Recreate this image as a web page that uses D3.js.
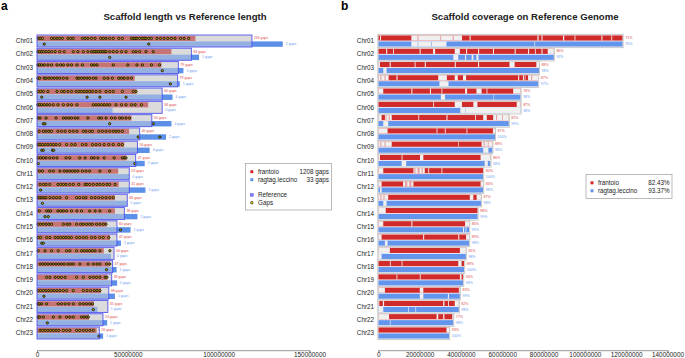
<!DOCTYPE html>
<html><head><meta charset="utf-8">
<script src="https://cdn.jsdelivr.net/npm/d3@7"></script>
<style>body{margin:0;background:#fff}svg{font-family:"Liberation Sans",Arial,Helvetica,sans-serif}</style>
</head><body><svg id="c" width="685" height="358"></svg>
<script>
// ---------- DATA (Mb) ----------
const chroms = ["Chr01","Chr02","Chr03","Chr04","Chr05","Chr06","Chr07","Chr08","Chr09","Chr10","Chr11","Chr12","Chr13","Chr14","Chr15","Chr16","Chr17","Chr18","Chr19","Chr20","Chr21","Chr22","Chr23"];
const refLen  = [118.3,85,77.8,77.4,68.9,68.9,63.2,56.5,55.3,54.3,50.8,50.8,49.7,48.1,44,44,42.4,41.6,41.1,39.5,39,36.3,34.3];
const frLen   = [87.2,74,68.5,53.8,54.8,61.2,52,50.7,48,49.3,44.7,45,42.9,42.9,38.3,40.1,36.8,40.1,38.6,35.2,31.3,28.7,32.8];
const ragLen  = [135.3,89.2,80.6,78.6,74.6,41.6,74,71,62,59.3,50.7,59.7,49.6,55.3,51.5,46.2,40.7,43.8,44.1,42.9,33.3,38.6,36.4];
const frGaps  = [118,83,79,79,60,94,50,40,56,47,53,41,66,38,60,47,40,37,49,38,35,23,26];
const ragGaps = [2,1,1,1,4,0,4,2,4,2,0,1,1,2,1,2,0,1,0,1,1,1,1];
const frGapPos = [
 [0.7,1.8,3,8,9.5,11,12.5,14,17,18.5,20,25,26.5,28,30,32,35,36.5,38,40,42,45,47,52,53,54,55,56.5,58,59,60,61.5,63,66,68,70,72,74,76,79,81,83.5],
 [0.5,1.5,2.5,3.5,5,6.5,8,10,12.5,15,20,22.5,25.5,28,30,31,32,33,34,35,36,37,38,40,42,44,46.5,49,53,54.5,56.5,60,64],
 [0.5,1.5,2.5,4,6,8,11,13,14.5,17,19,22,25,30,31.5,33,42,50,55,58,63,67.5],
 [0.5,1.5,4,5,6.5,8,9.5,11,12.5,14.5,16.5,22,23,24.5,26,27.5,29,31,32.5,37,39,41.5,45,46.5,48,50,52],
 [0.7,2,3.5,6,11,13.5,15,17,19,21.5,23,24.5,26,27.5,29,30.5,32.5,34.6,38,40,42,47,53,54.5],
 [0.5,1.5,2.5,4,5.5,7,9,11.5,14.5,17,19,22,31,32.5,34,35.5,37,38.5,40,43.5,46.5,49,52,54,57.5],
 [0.7,1.7,5,10.5,14.5,16,17.5,19,21,22.5,28,34,35.5,38,41,43,45.5,47,49,51],
 [1.2,3.5,5,6.5,8,11.5,13.5,15.5,18,20,22,25.5,27,29,30.5,34,36,38,40,42,43.5,45,47],
 [0.7,1.7,3,4.5,6,7.5,9,10.5,12.5,16.3,19,21,25,27,30.5,32.5,34.5,37,39.5,41.9,45,47],
 [0.7,2,3.5,5,7,9,11,16,18,23.5,26.5,30,31.5,33.5,37,42.5,47,48,49],
 [1.3,3,7,9,12.6,15,16.5,18,19.5,21,22.5,25,27,29,34.6,40],
 [1.7,3.5,5,7,11.5,13,14.5,16,18,20,23,26.5,27.5,29,31,33,34.6,36.5,38.5,40,43],
 [0.7,1.7,2.7,4,5,7.1,9,10.8,12.6,16.3,21.8,23.5,25.5,27,30,32,34,36,38,40,42],
 [1.3,5.3,6.5,7.5,11.5,13,14.5,16.3,19,22,24.5,29,32,34.6,40],
 [0.7,2,3.5,5,6.5,8,14.5,16.5,18,21.8,24,25.5,27.3,29,30.5,32.8,34.6,36.5,38],
 [0.7,2,5.3,7.1,10,11.5,13,14.5,16,17.5,19,21.8,23.5,25.5,27.3,30,32,34.5,36.5,39.5],
 [0.7,4.4,8,11.7,16.3,18.1,21.8,24.5,26,27.5,29,30.5,32,34.6,40.1],
 [1.7,3,4.5,6,7.5,9,10.5,12,13.5,15,17,18.5,20,23.6,28.2,31,33,34.6,38.3,40.1],
 [5.3,7.1,10,11.8,13.5,15.5,21.8,25.5,29.1,31,32.8,34.6,37.5,38.5],
 [0.7,2,3.5,5,6.5,8,9.5,11,12.6,14.5,16.3,20,25.5,27.5,29.5,31.5,33,34.6],
 [0.7,1.5,2.6,5.3,11.7,13.5,15.5,17.5,20,23.6,25.5,27.3,29,30.5],
 [0.7,1.5,3.5,9,12.6,16.3,18.1,20,24.5,26,27.3,28.2],
 [1.7,3,4.5,6,7.5,9,10.5,12,14.5,16.3,18.1,21.8,23.5,25.5,27.3,29.1,31]
];
const ragGapPos = [[4,61.5],[40],[69],[73.4],[2.6,27.6,34.6,49],[],[3.5,4.4,40,64],[55.7,67.6],[2.6,3.5,8.5,9.2],[0.7,53.8],[],[2],[3],[4.4,6.2],[46],[2.6,3.5],[],[38.3],[],[3.8],[31],[5.7],[34.1]];
const xTicksA = [0,50,100,150];

// panel b
const frPct  = [71,86,88,87,76,87,82,87,88,86,80,84,87,88,86,89,81,89,94,83,82,77,93];
const ragPct = [95,92,98,97,98,58,99,100,96,98,100,98,98,99,99,98,98,100,98,99,98,98,100];
const frUncov = [
 [[0.8,1.3],[16,40.5],[44.2,44.7],[77,77.6],[79,79.5],[89.4,90],[95,95.4],[108,108.5],[112.8,113.2]],
 [[3.8,4.3],[7.2,7.6],[20,20.5],[26.5,27.5],[37,39.5],[42.5,43],[48.3,48.8],[55.5,56],[66,66.5],[72.5,73],[75.8,76.2],[79,79.5],[82,85]],
 [[0,0.8],[5.5,6],[17.6,18],[22.5,23],[37,37.5],[48.3,48.8],[63.5,66],[76.5,77.8]],
 [[0,5],[8.8,9.3],[29,33.2],[37,38.5],[41,42.5],[67.7,68.2],[70,70.5],[72.5,77.4]],
 [[0,2.4],[16,16.5],[25,25.5],[30.6,31],[42,43],[47.5,50],[52.4,52.8],[65.3,68.9]],
 [[26.6,27],[37,40.5],[46,48],[67,68.9]],
 [[0,1.6],[3.2,6.5],[19.4,19.8],[33,33.5],[46.8,47.2],[50.8,52.5],[55.6,63.2]],
 [[0,4.5],[28.2,28.6],[32.2,32.6],[42.7,43.1],[55.5,56.5]],
 [[0,6.5],[38.7,39],[50,55.3]],
 [[0,0.8],[11.3,11.7],[20.2,21.8],[49.5,54.3]],
 [[0,2.4],[17,22.5],[24.2,24.6],[30.6,31]],
 [[0,1.6],[12,17],[49.5,50.8]],
 [[0,4.8],[44.3,46],[47.6,49.7]],
 [[0,3.6]],
 [[0,2.4],[16,16.5],[42,44]],
 [[0,1.6],[21.7,22.2],[38.7,39.2],[42.5,44]],
 [[0,5.6],[39.5,42.4]],
 [[5.6,6],[11.3,11.7],[38.7,40.3]],
 [[8.8,9.2],[20.1,20.5],[39.5,40.3]],
 [[0,3.2],[20.1,21.8],[39,39.5]],
 [[0,0.5],[2.2,2.8],[31.4,32],[33.8,34.2],[37,39]],
 [[0,5.2],[28.2,29],[31.4,32],[35.8,36.3]],
 [[33,34.3]]
];
const frPale = [[[19,19.5],[30,30.4],[36,36.5]],[],[],[[1,1.5],[3,3.5],[70.8,71.4],[74,74.5]],[],[],[[3.5,4],[5,5.5],[57,57.5],[60,60.4]],[],[[1,1.5],[3,3.5],[51,51.5],[53,53.4]],[],[[17.5,18],[19,20],[21,21.5]],[[13,14],[15,16]],[[1,1.5],[2.5,3]],[],[],[],[],[],[],[],[],[],[]];
const ragUncov = [
 [[16,33],[75.6,75.9]],
 [[36.3,38.7],[42,42.5],[45.2,46],[47.5,48.5]],
 [[2.4,4]],[[29.6,34]],[[30.3,32.3],[55.8,56]],[[39.7,68.9]],[[2.4,4.8]],[],[[50.8,53.3]],
 [[11.3,13.5],[51.5,53]],[],[[0.8,1.6]],[[2.4,4]],[],[[41,41.5],[42.2,42.6]],[[3.2,4.5]],
 [[0,1.6]],[],[],[[20.1,21.8],[33.7,34.2]],[[0,2.4],[14.5,14.8],[18,18.3]],[[5.6,5.9]],[]
];
const ragPale = [[[19,19.4],[25.5,26]],[],[],[],[],[[42,42.3]],[],[],[],[],[],[],[],[],[],[],[],[],[],[],[],[],[]];
const xTicksB = [0,20,40,60,80,100,120,140];
const legendA = [{name:"frantoio",val:"1208 gaps"},{name:"ragtag.leccino",val:"33 gaps"}];
const legendB = [{name:"frantoio",val:"82.43%"},{name:"ragtag.leccino",val:"93.37%"}];

// ---------- DRAW ----------
const svg = d3.select("#c");
const RED="#d12a2a", BLUE="#6495ed";
const y = d3.scalePoint().domain(chroms).range([41,333]);
const xa = d3.scaleLinear().domain([0,150]).range([37,309.5]);
const xb = d3.scaleLinear().domain([0,140]).range([378.3,667.5]);

svg.append("text").attr("x",1).attr("y",10).attr("font-size",12).attr("font-weight","bold").text("a");
svg.append("text").attr("x",341).attr("y",10).attr("font-size",12).attr("font-weight","bold").text("b");
svg.append("text").attr("x",185).attr("y",20).attr("text-anchor","middle").attr("font-size",9.6).attr("font-weight","bold").attr("fill","#222").text("Scaffold length vs Reference length");
svg.append("text").attr("x",525).attr("y",20).attr("text-anchor","middle").attr("font-size",9.6).attr("font-weight","bold").attr("fill","#222").text("Scaffold coverage on Reference Genome");

// ----- panel a -----
const gA = svg.append("g");
chroms.forEach((c,i)=>{
  const yc = y(c);
  const g = gA.append("g");
  g.append("text").attr("x",33).attr("y",yc+2.2).attr("text-anchor","end").attr("font-size",6.3).attr("fill","#222").text(c);
  g.append("rect").attr("x",xa(0)).attr("y",yc-6).attr("width",xa(refLen[i])-xa(0)).attr("height",12).attr("fill","#dadada");
  g.append("rect").attr("x",xa(0)).attr("y",yc+0.4).attr("width",xa(ragLen[i])-xa(0)).attr("height",5.4).attr("fill","#5b8fe8");
  g.append("rect").attr("x",xa(0)).attr("y",yc-6).attr("width",xa(refLen[i])-xa(0)).attr("height",12).attr("fill","#dcdcdc").attr("opacity",0.45);
  g.append("rect").attr("x",xa(0)).attr("y",yc-5.2).attr("width",xa(frLen[i])-xa(0)).attr("height",5.2).attr("fill","#c67474");
  g.selectAll(".gf").data(frGapPos[i]).join("circle").attr("cx",d=>xa(d)).attr("cy",yc-2.6).attr("r",1.15).attr("fill","#b8a800").attr("stroke","#000").attr("stroke-width",0.75);
  g.selectAll(".gr").data(ragGapPos[i]).join("circle").attr("cx",d=>xa(d)).attr("cy",yc+3.1).attr("r",1.15).attr("fill","#b8a800").attr("stroke","#000").attr("stroke-width",0.75);
  g.append("rect").attr("x",xa(0)).attr("y",yc-6).attr("width",xa(refLen[i])-xa(0)).attr("height",12).attr("fill","none").attr("stroke","#4b4bee").attr("stroke-width",1).attr("stroke-opacity",0.85);
  g.append("text").attr("x",xa(refLen[i])+2).attr("y",yc-1.6).attr("font-size",3.5).attr("fill","#e04848").text(frGaps[i]+" gaps");
  g.append("text").attr("x",xa(Math.max(refLen[i],ragLen[i]))+3).attr("y",yc+4).attr("font-size",3.5).attr("fill","#6a9af0").text(ragGaps[i]+" gaps");
});
const axA = svg.append("g").attr("transform","translate(0,350.2)").call(d3.axisBottom(xa).tickValues(xTicksA).tickSize(2).tickPadding(0.5).tickFormat(d=>String(d*1000000)));
axA.selectAll("path,line").attr("stroke","#999");
axA.selectAll("text").attr("font-size",6.4).attr("fill","#222").attr("font-family","Liberation Sans, Arial");

// legend a
const lA = svg.append("g");
lA.append("rect").attr("x",245.5).attr("y",163.5).attr("width",86).attr("height",46.5).attr("fill","#fff").attr("stroke","#aaa").attr("stroke-width",0.8);
legendA.forEach((d,k)=>{
  const yy = 171.7 + k*8;
  lA.append("rect").attr("x",250.3).attr("y",yy-1.5).attr("width",3).attr("height",3).attr("fill",k?BLUE:RED);
  lA.append("text").attr("x",258).attr("y",yy+2.1).attr("font-size",6.3).attr("fill","#222").text(d.name);
  lA.append("text").attr("x",329).attr("y",yy+2.1).attr("text-anchor","end").attr("font-size",6.3).attr("fill","#222").text(d.val);
});
lA.append("rect").attr("x",250.3).attr("y",193.5).attr("width",3).attr("height",3).attr("fill","#7b7bf2").attr("stroke","#5555ee").attr("stroke-width",0.4);
lA.append("text").attr("x",258).attr("y",197.1).attr("font-size",6.3).attr("fill","#222").text("Reference");
lA.append("circle").attr("cx",251.8).attr("cy",202.7).attr("r",1.3).attr("fill","#d8c800").attr("stroke","#1a1a1a").attr("stroke-width",0.6);
lA.append("text").attr("x",258).attr("y",204.8).attr("font-size",6.3).attr("fill","#222").text("Gaps");

// ----- panel b -----
const gB = svg.append("g");
chroms.forEach((c,i)=>{
  const yc = y(c);
  const g = gB.append("g");
  g.append("text").attr("x",374).attr("y",yc+2.2).attr("text-anchor","end").attr("font-size",6.3).attr("fill","#222").text(c);
  const w = xb(refLen[i])-xb(0);
  g.append("rect").attr("x",xb(0)).attr("y",yc-5.6).attr("width",w).attr("height",5.2).attr("fill",RED);
  g.append("rect").attr("x",xb(0)).attr("y",yc+0.4).attr("width",w).attr("height",5.2).attr("fill",BLUE);
  g.selectAll(".uf").data(frUncov[i]).join("rect").attr("x",d=>xb(d[0])).attr("y",yc-5.6).attr("width",d=>Math.max(0.5,xb(d[1])-xb(d[0]))).attr("height",5.2).attr("fill","#f0f0f0");
  g.selectAll(".pf").data(frPale[i]).join("rect").attr("x",d=>xb(d[0])).attr("y",yc-5.6).attr("width",d=>xb(d[1])-xb(d[0])).attr("height",5.2).attr("fill","#e69a9a");
  g.selectAll(".ur").data(ragUncov[i]).join("rect").attr("x",d=>xb(d[0])).attr("y",yc+0.4).attr("width",d=>Math.max(0.5,xb(d[1])-xb(d[0]))).attr("height",5.2).attr("fill","#f0f0f0");
  g.selectAll(".pr").data(ragPale[i]).join("rect").attr("x",d=>xb(d[0])).attr("y",yc+0.4).attr("width",d=>xb(d[1])-xb(d[0])).attr("height",5.2).attr("fill","#a9c0ee");
  g.append("rect").attr("x",xb(0)-0.5).attr("y",yc-6.6).attr("width",w+1).attr("height",13.2).attr("fill","none").attr("stroke","#c9c9c9").attr("stroke-width",1);
  g.append("text").attr("x",xb(refLen[i])+2.5).attr("y",yc-1.8).attr("font-size",3.6).attr("fill","#e04848").text(frPct[i]+"%");
  g.append("text").attr("x",xb(refLen[i])+2.5).attr("y",yc+4.2).attr("font-size",3.6).attr("fill","#6a9af0").text(ragPct[i]+"%");
});
const axB = svg.append("g").attr("transform","translate(0,350.2)").call(d3.axisBottom(xb).tickValues(xTicksB).tickSize(2).tickPadding(0.5).tickFormat(d=>String(d*1000000)));
axB.selectAll("path,line").attr("stroke","#999");
axB.selectAll("text").attr("font-size",6.4).attr("fill","#222").attr("font-family","Liberation Sans, Arial");

// legend b
const lB = svg.append("g");
lB.append("rect").attr("x",586).attr("y",174.5).attr("width",86).attr("height",24).attr("fill","#fff").attr("stroke","#aaa").attr("stroke-width",0.8);
legendB.forEach((d,k)=>{
  const yy = 182.8 + k*8;
  lB.append("rect").attr("x",590.5).attr("y",yy-1.5).attr("width",3).attr("height",3).attr("fill",k?BLUE:RED);
  lB.append("text").attr("x",598).attr("y",yy+2.1).attr("font-size",6.3).attr("fill","#222").text(d.name);
  lB.append("text").attr("x",669.5).attr("y",yy+2.1).attr("text-anchor","end").attr("font-size",6.3).attr("fill","#222").text(d.val);
});
</script></body></html>
